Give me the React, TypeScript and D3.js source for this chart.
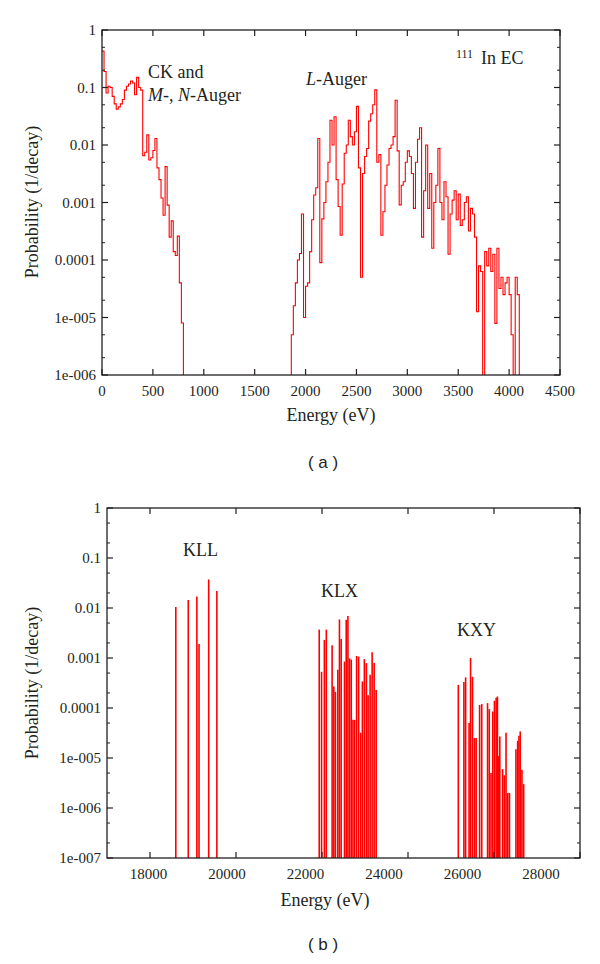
import React from "react";
import * as d3 from "d3";

// ---------------- data ----------------
// (a) Auger / CK electron spectrum, histogram with 20 eV bins
const BIN_WIDTH = 20;
const LOW_START = 0; // eV, first bin of the CK + M,N-Auger part
const HIGH_START = 1860; // eV, first bin of the L-Auger part
const BELOW_AXIS = 1e-8; // value below the plotted range (line drops out of frame)

const lowBinProb = [
  0.43, 0.19, 0.08, 0.105, 0.1, 0.07, 0.052, 0.042, 0.046, 0.052,
  0.062, 0.09, 0.105, 0.115, 0.13, 0.12, 0.075, 0.15, 0.1, 0.09,
  0.0065, 0.0075, 0.015, 0.0055, 0.006, 0.008, 0.013, 0.004, 0.0025, 0.0012,
  0.0006, 0.0042, 0.0009, 0.00025, 0.00048, 0.00014, 0.00012, 0.00026, 0.00004, 0.000008,
];

const highBinProb = [
  5.0e-6, 1.6e-5, 4.0e-5, 1.0e-4, 1.3e-4, 6.3e-4, 1.0e-5, 3.5e-5, 4.0e-5, 1.4e-4,
  5.0e-4, 1.35e-3, 1.8e-3, 1.3e-2, 9.0e-5, 5.2e-4, 1.0e-3, 2.3e-3, 5.0e-3, 2.7e-2,
  1.0e-2, 3.1e-2, 2.5e-3, 8.5e-4, 2.7e-4, 2.1e-3, 7.2e-3, 1.0e-2, 2.7e-2, 1.4e-2,
  1.0e-2, 1.7e-2, 4.7e-2, 4.0e-3, 5.0e-5, 3.2e-3, 6.3e-3, 8.7e-3, 2.6e-2, 3.5e-2,
  5.0e-2, 9.1e-2, 5.0e-3, 6.8e-3, 2.7e-4, 6.9e-4, 2.0e-3, 4.5e-3, 8.7e-3, 1.0e-2,
  1.4e-2, 6.0e-2, 7.9e-3, 9.1e-4, 2.0e-3, 2.3e-3, 5.0e-3, 7.9e-3, 6.3e-3, 3.2e-3,
  7.9e-4, 5.0e-3, 1.26e-2, 2.0e-2, 2.5e-4, 1.6e-3, 1.0e-2, 7.9e-4, 3.2e-3, 1.6e-4,
  1.0e-3, 2.0e-3, 8.7e-3, 1.0e-3, 5.0e-4, 2.3e-3, 1.26e-3, 1.26e-4, 6.3e-4, 1.1e-3,
  1.6e-3, 5.0e-4, 1.4e-3, 4.0e-4, 5.0e-4, 1.0e-3, 1.26e-3, 3.2e-4, 7.9e-4, 6.3e-4,
  2.5e-4, 1.26e-5, 7.9e-5, 6.3e-5, 1e-8, 1.4e-4, 7.9e-5, 1.6e-4, 6.3e-5, 1.26e-4,
  7.9e-6, 1.6e-4, 3.2e-5, 5.0e-5, 2.5e-5, 4.0e-5, 5.0e-5, 2.5e-5, 5.0e-6, 1e-8,
  5.0e-5, 2.5e-5,
];

// (b) K-Auger lines
const kllEnergy = [18600, 18890, 19090, 19140, 19365, 19555];
const kllProb = [0.0105, 0.0145, 0.017, 0.0019, 0.037, 0.022];

const klxEnergy = [
  21935, 21990, 22055, 22100, 22235, 22275, 22312, 22368, 22406, 22446,
  22523, 22563, 22603, 22641, 22680, 22720, 22758, 22805, 22852, 22899,
  22939, 22985, 23032, 23072, 23119, 23166, 23213, 23260,
];
const klxProb = [
  3.7e-3, 5.3e-4, 2.3e-3, 3.7e-3, 1.8e-3, 2.7e-4, 2.1e-4, 5.8e-4, 5.9e-3, 2.4e-3,
  8.5e-4, 5.8e-3, 6.9e-3, 9.8e-4, 9.3e-4, 5.8e-5, 5.8e-5, 1.1e-3, 1.07e-3, 3.2e-5,
  3.4e-4, 9.5e-4, 7.9e-4, 1.8e-4, 4.6e-4, 1.3e-3, 7.9e-4, 2.3e-4,
];

const kxyEnergy = [
  25170, 25300, 25340, 25420, 25455, 25500, 25545, 25585, 25665, 25715,
  25850, 25890, 25930, 25970, 26010, 26050, 26080, 26110, 26135, 26200,
  26240, 26280, 26320, 26360, 26510, 26550, 26580, 26610, 26650, 26690,
];
const kxyProb = [
  2.9e-4, 3.3e-4, 4.1e-4, 5.0e-5, 1.0e-3, 4.2e-4, 2.5e-5, 2.5e-5, 1.15e-4, 1.2e-4,
  1.25e-4, 9.5e-5, 5.0e-6, 8.5e-5, 1.4e-4, 1.6e-4, 1.7e-4, 1.1e-5, 2.7e-5, 6.0e-6,
  4.5e-6, 3.2e-5, 2.0e-6, 2.0e-6, 1.5e-5, 2.2e-5, 2.8e-5, 3.4e-5, 5.8e-6, 3.0e-6,
];

// ticks
const topXTicks = [0, 500, 1000, 1500, 2000, 2500, 3000, 3500, 4000, 4500];
const topYTicks = [1, 0.1, 0.01, 0.001, 0.0001, 1e-5, 1e-6];
const topYLabels = ["1", "0.1", "0.01", "0.001", "0.0001", "1e-005", "1e-006"];
const botXTicks = [18000, 20000, 22000, 24000, 26000, 28000];
const botYTicks = [1, 0.1, 0.01, 0.001, 0.0001, 1e-5, 1e-6, 1e-7];
const botYLabels = ["1", "0.1", "0.01", "0.001", "0.0001", "1e-005", "1e-006", "1e-007"];

// ---------------- styling ----------------
const SERIF = '"Liberation Serif", "DejaVu Serif", "Times New Roman", Times, serif';
const SANS = '"Liberation Sans", Arial, Helvetica, sans-serif';
const RED = "#ff0000";
const INK = "#231f20";

function minorTicks(lo: number, hi: number): number[] {
  const out: number[] = [];
  for (let e = Math.round(Math.log10(lo)); e < Math.round(Math.log10(hi)); e++) {
    out.push(2 * Math.pow(10, e), 5 * Math.pow(10, e));
  }
  return out;
}

const serifStyle = { fontFamily: SERIF } as React.CSSProperties;
const sansStyle = { fontFamily: SANS } as React.CSSProperties;

type FrameProps = {
  x: d3.ScaleLinear<number, number>;
  y: d3.ScaleLogarithmic<number, number>;
  xTicks: number[];
  yTicks: number[];
  yLabels: string[];
  labelX: (v: number) => number;
  xLabels: number[];
};

function Frame({ x, y, xTicks, yTicks, yLabels, labelX, xLabels }: FrameProps) {
  const [x0, x1] = x.range();
  const [yb, yt] = y.range();
  const [d0, d1] = y.domain();
  const minors = minorTicks(d0, d1);
  return (
    <g>
      <rect x={x0} y={yt} width={x1 - x0} height={yb - yt} fill="none" stroke={INK} strokeWidth={1.3} />
      {xTicks.map((t) => (
        <g key={"xt" + t}>
          <line x1={x(t)} x2={x(t)} y1={yb} y2={yb - 6} stroke={INK} strokeWidth={1.2} />
          <line x1={x(t)} x2={x(t)} y1={yt} y2={yt + 6} stroke={INK} strokeWidth={1.2} />
        </g>
      ))}
      {xLabels.map((t) => (
        <text key={"xl" + t} x={labelX(t)} y={yb + 21} textAnchor="middle" style={serifStyle} fontSize={15} fill={INK}>
          {t}
        </text>
      ))}
      {yTicks.map((t, i) => (
        <g key={"yt" + t}>
          <line x1={x0} x2={x0 + 6} y1={y(t)} y2={y(t)} stroke={INK} strokeWidth={1.2} />
          <line x1={x1} x2={x1 - 6} y1={y(t)} y2={y(t)} stroke={INK} strokeWidth={1.2} />
          <text x={x0 - 6} y={y(t)} dy="0.35em" textAnchor="end" style={serifStyle} fontSize={15} fill={INK}>
            {yLabels[i]}
          </text>
        </g>
      ))}
      {minors.map((t) => (
        <g key={"ym" + t}>
          <line x1={x0} x2={x0 + 3} y1={y(t)} y2={y(t)} stroke={INK} strokeWidth={1} />
          <line x1={x1} x2={x1 - 3} y1={y(t)} y2={y(t)} stroke={INK} strokeWidth={1} />
        </g>
      ))}
    </g>
  );
}

export default function App() {
  // ---- chart (a) ----
  const xA = d3.scaleLinear().domain([0, 4500]).range([102, 560]);
  const yA = d3.scaleLog().domain([1e-6, 1]).range([375, 30]);

  const ptsA: [number, number][] = [];
  lowBinProb.forEach((p, i) => ptsA.push([LOW_START + i * BIN_WIDTH, p]));
  ptsA.push([LOW_START + lowBinProb.length * BIN_WIDTH, BELOW_AXIS]);
  highBinProb.forEach((p, i) => ptsA.push([HIGH_START + i * BIN_WIDTH, p]));
  ptsA.push([HIGH_START + highBinProb.length * BIN_WIDTH, BELOW_AXIS]);
  ptsA.push([4500, BELOW_AXIS]);
  const lineA = d3
    .line<[number, number]>()
    .x((d) => xA(d[0]))
    .y((d) => yA(d[1]))
    .curve(d3.curveStepAfter);

  // ---- chart (b) ----
  const xB = d3.scaleLinear().domain([17000, 28000]).range([107, 580]);
  const yB = d3.scaleLog().domain([1e-7, 1]).range([858, 508]);
  const xBLabel = d3.scaleLinear().domain([18000, 28000]).range([148.5, 541]);
  const lines: { e: number; p: number }[] = [];
  kllEnergy.forEach((e, i) => lines.push({ e, p: kllProb[i] }));
  klxEnergy.forEach((e, i) => lines.push({ e, p: klxProb[i] }));
  kxyEnergy.forEach((e, i) => lines.push({ e, p: kxyProb[i] }));

  return (
    <svg
      width={600}
      height={964}
      viewBox="0 0 600 964"
      style={{ position: "absolute", left: 0, top: 0, background: "#fff", fontFamily: SERIF }}
    >
      <defs>
        <clipPath id="clipA">
          <rect x={102} y={30} width={458} height={345} />
        </clipPath>
        <clipPath id="clipB">
          <rect x={107} y={508} width={473} height={350} />
        </clipPath>
      </defs>
      <rect x={0} y={0} width={600} height={964} fill="#fff" />

      {/* ---------- (a) ---------- */}
      <path d={lineA(ptsA) || ""} fill="none" stroke={RED} strokeWidth={1.1} clipPath="url(#clipA)" />
      <Frame
        x={xA}
        y={yA}
        xTicks={topXTicks}
        yTicks={topYTicks}
        yLabels={topYLabels}
        labelX={(v) => xA(v)}
        xLabels={topXTicks}
      />
      <text x={331} y={421} textAnchor="middle" style={serifStyle} fontSize={18} fill={INK}>
        Energy (eV)
      </text>
      <text transform="translate(38,202) rotate(-90)" textAnchor="middle" style={serifStyle} fontSize={18} fill={INK}>
        Probability (1/decay)
      </text>
      <text x={148} y={78} style={serifStyle} fontSize={18} fill={INK}>
        CK and
      </text>
      <text x={148} y={101} style={serifStyle} fontSize={18} fill={INK}>
        <tspan fontStyle="italic">M</tspan>
        <tspan>-, </tspan>
        <tspan fontStyle="italic">N</tspan>
        <tspan>-Auger</tspan>
      </text>
      <text x={306} y={85} style={serifStyle} fontSize={18} fill={INK}>
        <tspan fontStyle="italic">L</tspan>
        <tspan>-Auger</tspan>
      </text>
      <text x={456} y={58} style={serifStyle} fontSize={12} fill={INK}>
        111
      </text>
      <text x={481} y={64} style={serifStyle} fontSize={18} fill={INK}>
        In EC
      </text>
      <text x={323} y={468} textAnchor="middle" style={sansStyle} fontSize={17} fill={INK}>
        ( a )
      </text>

      {/* ---------- (b) ---------- */}
      <g clipPath="url(#clipB)">
        {lines.map((d, i) => (
          <line
            key={i}
            x1={xB(d.e)}
            x2={xB(d.e)}
            y1={yB(1e-7)}
            y2={yB(d.p)}
            stroke={RED}
            strokeWidth={1.6}
          />
        ))}
      </g>
      <Frame
        x={xB}
        y={yB}
        xTicks={botXTicks}
        yTicks={botYTicks}
        yLabels={botYLabels}
        labelX={(v) => xBLabel(v)}
        xLabels={botXTicks}
      />
      <text x={325} y={906} textAnchor="middle" style={serifStyle} fontSize={18} fill={INK}>
        Energy (eV)
      </text>
      <text transform="translate(38,683) rotate(-90)" textAnchor="middle" style={serifStyle} fontSize={18} fill={INK}>
        Probability (1/decay)
      </text>
      <text x={183} y={556} style={serifStyle} fontSize={18} fill={INK}>
        KLL
      </text>
      <text x={321} y={597} style={serifStyle} fontSize={18} fill={INK}>
        KLX
      </text>
      <text x={457} y={636} style={serifStyle} fontSize={18} fill={INK}>
        KXY
      </text>
      <text x={323} y={950} textAnchor="middle" style={sansStyle} fontSize={17} fill={INK}>
        ( b )
      </text>
    </svg>
  );
}
